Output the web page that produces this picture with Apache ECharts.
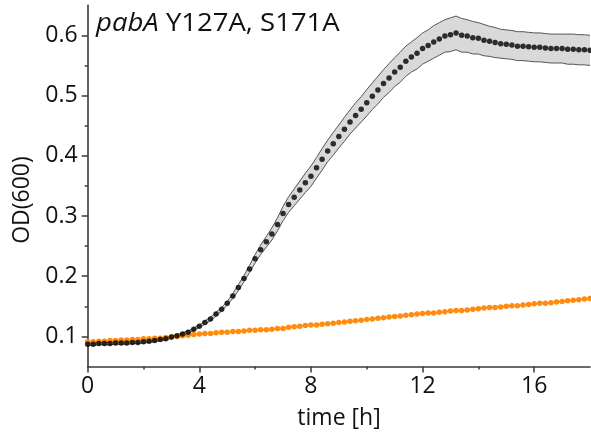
<!DOCTYPE html>
<html><head><meta charset="utf-8">
<script src="https://cdn.jsdelivr.net/npm/echarts@6/dist/echarts.min.js"></script>
<style>html,body{margin:0;padding:0;background:#fff}#c{width:591px;height:436px}</style>
</head><body><div id="c"></div>
<script>
const times = [0,0.2,0.4,0.6,0.8,1,1.2,1.4,1.6,1.8,2,2.2,2.4,2.6,2.8,3,3.2,3.4,3.6,3.8,4,4.2,4.4,4.6,4.8,5,5.2,5.4,5.6,5.8,6,6.2,6.4,6.6,6.8,7,7.2,7.4,7.6,7.8,8,8.2,8.4,8.6,8.8,9,9.2,9.4,9.6,9.8,10,10.2,10.4,10.6,10.8,11,11.2,11.4,11.6,11.8,12,12.2,12.4,12.6,12.8,13,13.2,13.4,13.6,13.8,14,14.2,14.4,14.6,14.8,15,15.2,15.4,15.6,15.8,16,16.2,16.4,16.6,16.8,17,17.2,17.4,17.6,17.8,18];
const meanOD = [0.087,0.087,0.088,0.088,0.088,0.089,0.089,0.089,0.090,0.090,0.091,0.092,0.093,0.095,0.096,0.099,0.101,0.104,0.107,0.112,0.117,0.123,0.129,0.137,0.145,0.155,0.167,0.181,0.196,0.212,0.229,0.244,0.257,0.270,0.286,0.304,0.319,0.331,0.343,0.355,0.366,0.380,0.394,0.408,0.420,0.432,0.444,0.456,0.467,0.477,0.488,0.499,0.509,0.520,0.529,0.539,0.547,0.557,0.564,0.570,0.578,0.583,0.589,0.594,0.599,0.601,0.604,0.600,0.599,0.596,0.595,0.592,0.590,0.588,0.586,0.585,0.584,0.582,0.582,0.581,0.580,0.580,0.579,0.578,0.578,0.578,0.577,0.577,0.576,0.576,0.575];
const sdOD = [0.002,0.002,0.002,0.002,0.002,0.002,0.002,0.002,0.002,0.002,0.002,0.002,0.002,0.002,0.002,0.002,0.002,0.002,0.002,0.002,0.002,0.003,0.003,0.003,0.003,0.003,0.004,0.005,0.005,0.006,0.007,0.008,0.009,0.010,0.011,0.012,0.013,0.014,0.015,0.016,0.017,0.017,0.018,0.018,0.019,0.019,0.020,0.020,0.021,0.021,0.022,0.022,0.023,0.023,0.024,0.024,0.025,0.025,0.025,0.026,0.026,0.026,0.027,0.027,0.027,0.028,0.028,0.028,0.027,0.027,0.026,0.026,0.025,0.025,0.024,0.024,0.024,0.024,0.024,0.024,0.024,0.024,0.024,0.024,0.024,0.024,0.025,0.025,0.025,0.025,0.025];
const controlOD = [0.091,0.091,0.092,0.092,0.093,0.093,0.094,0.094,0.095,0.095,0.096,0.096,0.097,0.097,0.098,0.099,0.100,0.101,0.102,0.103,0.104,0.105,0.105,0.106,0.107,0.107,0.108,0.108,0.109,0.110,0.110,0.111,0.111,0.112,0.113,0.113,0.115,0.116,0.117,0.118,0.119,0.119,0.120,0.121,0.122,0.123,0.124,0.125,0.126,0.127,0.128,0.129,0.130,0.131,0.132,0.133,0.134,0.135,0.136,0.137,0.138,0.139,0.139,0.140,0.141,0.142,0.143,0.143,0.144,0.145,0.146,0.147,0.148,0.148,0.149,0.150,0.151,0.151,0.152,0.153,0.154,0.155,0.155,0.156,0.157,0.158,0.159,0.160,0.161,0.162,0.163];
const xMajorTicks = [0,4,8,12,16];
const xMinorTicks = [2,6,10,14];
const yMajorTicks = [0.1,0.2,0.3,0.4,0.5,0.6];
const yMinorTicks = [0.15,0.25,0.35,0.45,0.55];

const FONT = 'Open Sans';
const AX = '#3a3a3a';
const bandData = times.map((t,i)=>[t, +(meanOD[i]-sdOD[i]).toFixed(4), +(meanOD[i]+sdOD[i]).toFixed(4)]);
const meanData = times.map((t,i)=>[t, meanOD[i]]);
const ctrlData = times.map((t,i)=>[t, controlOD[i]]);

function renderBand(params, api){
  if (params.dataIndex !== 0) return null;
  const up = bandData.map(d=>api.coord([d[0], d[2]]));
  const lo = bandData.map(d=>api.coord([d[0], d[1]]));
  const poly = up.concat(lo.slice().reverse());
  return {type:'group', children:[
    {type:'polygon', shape:{points:poly}, style:{fill:'#d9d9d9', stroke:null}},
    {type:'polyline', shape:{points:up}, style:{fill:null, stroke:'#555', lineWidth:1}},
    {type:'polyline', shape:{points:lo}, style:{fill:null, stroke:'#555', lineWidth:1}}
  ]};
}

const chart = echarts.init(document.getElementById('c'), null, {renderer:'canvas'});
chart.setOption({
  animation:false,
  grid:{left:87.7, right:1, top:5.2, bottom:69.5, containLabel:false},
  xAxis:[{
    type:'value', min:0, max:18, position:'bottom',
    axisLine:{show:true, onZero:false, lineStyle:{color:AX, width:1.6}},
    axisTick:{show:true, customValues:xMajorTicks, length:6, lineStyle:{color:AX, width:1.5}},
    axisLabel:{customValues:xMajorTicks, fontFamily:FONT, fontSize:23, color:'#111', margin:8},
    splitLine:{show:false}
  },{
    type:'value', min:0, max:18, position:'bottom',
    axisLine:{show:false},
    axisTick:{show:true, customValues:xMinorTicks, length:3, lineStyle:{color:AX, width:1.5}},
    axisLabel:{show:false}, splitLine:{show:false}
  }],
  yAxis:[{
    type:'value', min:0.05, max:0.65, position:'left',
    axisLine:{show:true, onZero:false, lineStyle:{color:AX, width:1.6}},
    axisTick:{show:true, customValues:yMajorTicks, length:6, lineStyle:{color:AX, width:1.5}},
    axisLabel:{customValues:yMajorTicks, fontFamily:FONT, fontSize:23, color:'#111', margin:10,
      formatter:v=>v.toFixed(1)},
    splitLine:{show:false}
  },{
    type:'value', min:0.05, max:0.65, position:'left', offset:0,
    axisLine:{show:false},
    axisTick:{show:true, customValues:yMinorTicks, length:3, lineStyle:{color:AX, width:1.5}},
    axisLabel:{show:false}, splitLine:{show:false}
  }],
  graphic:[
    {type:'text', x:96, y:11, scaleX:1.1, z:10, style:{rich:{i:{fontStyle:'italic', fontFamily:FONT, fontSize:25, fill:'#111'}, n:{fontFamily:FONT, fontSize:25, fill:'#111'}}, text:'{i|pabA}{n|\u00a0Y127A, S171A}'}},
    {type:'text', x:22, y:200, rotation:Math.PI/2, style:{text:'OD(600)', fontFamily:FONT, fontSize:23, fill:'#111', align:'center', verticalAlign:'middle'}},
    {type:'text', x:339, y:418, style:{text:'time [h]', fontFamily:FONT, fontSize:23, fill:'#111', align:'center', verticalAlign:'middle'}}
  ],
  series:[
    {type:'custom', name:'band', data:bandData, renderItem:renderBand, z:1, silent:true,
      encode:{x:0, y:[1,2]}},
    {type:'line', name:'control', data:ctrlData, z:3, showAllSymbol:true, symbol:'circle', symbolSize:5.5,
      itemStyle:{color:'#ff8c0f'}, lineStyle:{color:'#ff8c0f', width:1.5}},
    {type:'scatter', name:'mean', data:meanData, z:4, symbol:'circle', symbolSize:5.5,
      itemStyle:{color:'#000'}}
  ]
});
</script></body></html>
